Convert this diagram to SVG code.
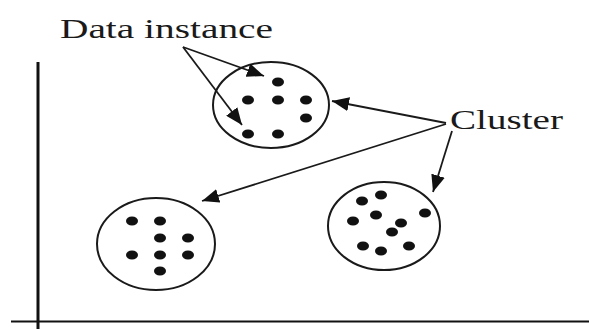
<svg xmlns="http://www.w3.org/2000/svg" width="589" height="329" viewBox="0 0 589 329">
  <style>
    .axis { stroke: #111; fill: none; }
    .cluster { fill: none; stroke: #1a1a1a; stroke-width: 2; }
    .dot { fill: #111; }
    .label { font-family: "Liberation Serif", "Times New Roman", serif; font-size: 27px; fill: #1a1a1a; }
    .link { stroke: #1a1a1a; stroke-width: 1.8; fill: none; marker-end: url(#head); }
  </style>
  <defs>
    <marker id="head" markerUnits="userSpaceOnUse" markerWidth="18" markerHeight="14" refX="17" refY="7" orient="auto">
      <path d="M0,0 L17,7 L0,14 z" fill="#111"/>
    </marker>
  </defs>
  <rect width="589" height="329" fill="#fff"/>

  <!-- axes -->
  <g id="axes">
    <line class="axis" x1="38" y1="62" x2="38" y2="329" stroke="#555" stroke-width="3"/>
    <line class="axis" x1="11" y1="321.5" x2="589" y2="321.5" stroke-width="2"/>
  </g>

  <!-- upper cluster -->
  <g id="cluster-top">
    <ellipse class="cluster" cx="271" cy="105" rx="58" ry="43"/>
    <ellipse class="dot" cx="278" cy="82" rx="6" ry="4.5"/>
    <ellipse class="dot" cx="248" cy="100" rx="6" ry="4.5"/>
    <ellipse class="dot" cx="278" cy="100" rx="6" ry="4.5"/>
    <ellipse class="dot" cx="306" cy="100" rx="6" ry="4.5"/>
    <ellipse class="dot" cx="306" cy="118" rx="6" ry="4.5"/>
    <ellipse class="dot" cx="248" cy="134" rx="6" ry="4.5"/>
    <ellipse class="dot" cx="278" cy="134" rx="6" ry="4.5"/>
  </g>

  <!-- lower-left cluster -->
  <g id="cluster-left">
    <ellipse class="cluster" cx="156" cy="244" rx="59" ry="46"/>
    <ellipse class="dot" cx="132" cy="221" rx="6" ry="4.5"/>
    <ellipse class="dot" cx="160" cy="221" rx="6" ry="4.5"/>
    <ellipse class="dot" cx="160" cy="238" rx="6" ry="4.5"/>
    <ellipse class="dot" cx="188" cy="238" rx="6" ry="4.5"/>
    <ellipse class="dot" cx="132" cy="255" rx="6" ry="4.5"/>
    <ellipse class="dot" cx="160" cy="255" rx="6" ry="4.5"/>
    <ellipse class="dot" cx="188" cy="255" rx="6" ry="4.5"/>
    <ellipse class="dot" cx="160" cy="271" rx="6" ry="4.5"/>
  </g>

  <!-- lower-right cluster -->
  <g id="cluster-right">
    <ellipse class="cluster" cx="384" cy="226" rx="56" ry="44"/>
    <ellipse class="dot" cx="362" cy="201" rx="6" ry="4.5"/>
    <ellipse class="dot" cx="381" cy="195" rx="6" ry="4.5"/>
    <ellipse class="dot" cx="425" cy="213" rx="6" ry="4.5"/>
    <ellipse class="dot" cx="353" cy="221" rx="6" ry="4.5"/>
    <ellipse class="dot" cx="376" cy="215" rx="6" ry="4.5"/>
    <ellipse class="dot" cx="401" cy="223" rx="6" ry="4.5"/>
    <ellipse class="dot" cx="392" cy="232" rx="6" ry="4.5"/>
    <ellipse class="dot" cx="363" cy="246" rx="6" ry="4.5"/>
    <ellipse class="dot" cx="381" cy="251" rx="6" ry="4.5"/>
    <ellipse class="dot" cx="409" cy="246" rx="6" ry="4.5"/>
  </g>

  <!-- labels -->
  <g id="label-data-instance">
    <text class="label" x="60" y="38" textLength="213" lengthAdjust="spacingAndGlyphs">Data instance</text>
  </g>
  <g id="label-cluster">
    <text class="label" x="450" y="129" textLength="113" lengthAdjust="spacingAndGlyphs">Cluster</text>
  </g>

  <!-- connectors -->
  <g id="connectors">
    <line class="link" x1="183" y1="47" x2="264" y2="76"/>
    <line class="link" x1="183" y1="47" x2="242" y2="125"/>
    <line class="link" x1="446" y1="123" x2="332" y2="101"/>
    <line class="link" x1="446" y1="124" x2="202" y2="201"/>
    <line class="link" x1="452" y1="131" x2="433" y2="192"/>
  </g>
</svg>
